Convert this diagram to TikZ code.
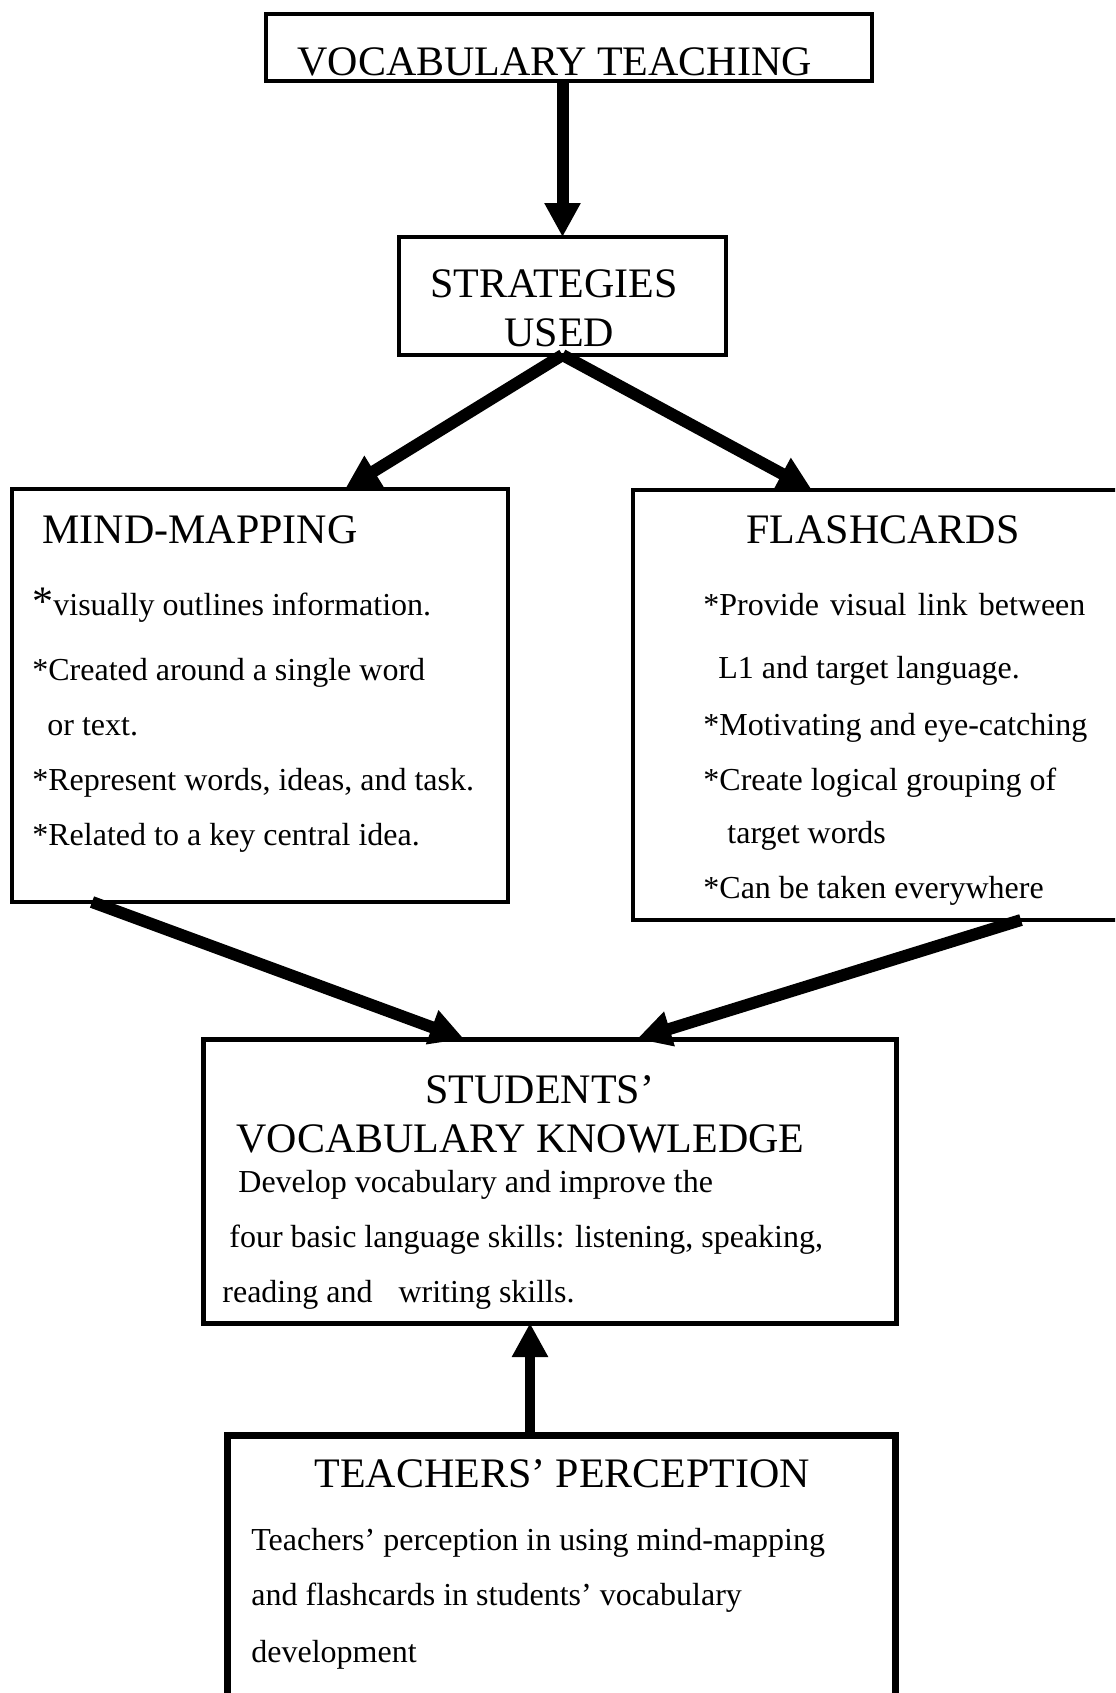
\documentclass[tikz,border=0pt]{standalone}
\usepackage{fontspec}
\setmainfont{Liberation Serif}
\usetikzlibrary{arrows.meta,calc}
\begin{document}
\begin{tikzpicture}[x=0.5pt,y=-0.5pt,
  box/.style={draw,rectangle,inner sep=0pt,outer sep=0pt,line width=2pt},
  ttl/.style={anchor=base west,inner sep=0pt,font=\fontsize{21}{25}\selectfont},
  txt/.style={anchor=base west,inner sep=0pt,font=\fontsize{16}{19}\selectfont},
  arr/.style={line width=6pt,-{Triangle[length=17pt,width=17pt]}},
]
\useasboundingbox (0,0) rectangle (1115,1693);
\clip (0,0) rectangle (1115,1693);
\fill[white] (0,0) rectangle (1115,1693);

% boxes
\node[box,minimum width=303pt,minimum height=33.5pt] (vt) at (569,47.5) {};
\node[box,minimum width=163.5pt,minimum height=59pt] (strat) at (562.5,296) {};
\node[box,minimum width=248pt,minimum height=206.5pt] (mm) at (260,695.5) {};
\node[box,minimum width=248.5pt,minimum height=215pt] (fc) at (881.5,705) {};
\node[box,line width=2.5pt,minimum width=346.5pt,minimum height=142pt] (svk) at (549.5,1181) {};
\node[box,line width=3.5pt,minimum width=334pt,minimum height=142.5pt] (tp) at (561,1577.5) {};

% texts
\node[ttl] (vtT) at (297,75) {VOCABULARY TEACHING};

\node[ttl] (st1) at (430,297) {STRATEGIES};
\node[ttl] (st2) at (504,346) {USED};

\node[ttl] (mmT) at (42,543) {MIND-MAPPING};
\node[txt] (mm1) at (32,615) {{\fontsize{21}{25}\selectfont *}visually outlines information.};
\node[txt] (mm2) at (32,680) {*Created around a single word};
\node[txt] (mm3) at (47,735) {or text.};
\node[txt] (mm4) at (32,790) {*Represent words, ideas, and task.};
\node[txt] (mm5) at (32,845) {*Related to a key central idea.};

\node[ttl] (fcT) at (746,543) {FLASHCARDS};
\node[txt] (fc1) at (703,615) {\hbox to 191pt{*Provide\hfil visual\hfil link\hfil between}};
\node[txt] (fc2) at (718,678) {L1 and target language.};
\node[txt] (fc3) at (703,735) {*Motivating and eye-catching};
\node[txt] (fc4) at (703,790) {*Create logical grouping of};
\node[txt] (fc5) at (727,843) {target words};
\node[txt] (fc6) at (703,898) {*Can be taken everywhere};

\node[ttl] (svT1) at (425,1103) {STUDENTS’};
\node[ttl] (svT2) at (236,1152) {VOCABULARY KNOWLEDGE};
\node[txt] (sv1) at (238,1192) {Develop vocabulary and improve the};
\node[txt] (sv2) at (229,1247) {four basic language skills: listening, speaking,};
\node[txt] (sv3) at (222,1302) {reading and\hspace{13pt}writing skills.};

\node[ttl] (tpT) at (314,1487) {TEACHERS’ PERCEPTION};
\node[txt] (tp1) at (251,1550) {Teachers’ perception in using mind-mapping};
\node[txt] (tp2) at (251,1605) {and flashcards in students’ vocabulary};
\node[txt] (tp3) at (251,1662) {development};

% connectors
\draw[arr] (strat.north |- vt.south) -- (strat.north);
\coordinate (s1) at ($(mm.north west)+(333,0)$);
\coordinate (s2) at ($(fc.north west)+(179,0)$);
\draw[arr] (strat.south) -- (s1);
\draw[arr] (strat.south) -- (s2);
\coordinate (m1) at ($(mm.south west)+(80,0)$);
\coordinate (m2) at ($(svk.north west)+(261,0)$);
\draw[arr] (m1) -- (m2);
\coordinate (f1) at ($(fc.south west)+(388,0)$);
\coordinate (f2) at ($(svk.north west)+(434,0)$);
\draw[arr] (f1) -- (f2);
\coordinate (t1) at ($(tp.north west)+(303,0)$);
\draw[arr,line width=5pt] (t1) -- (t1 |- svk.south);
\end{tikzpicture}
\end{document}
